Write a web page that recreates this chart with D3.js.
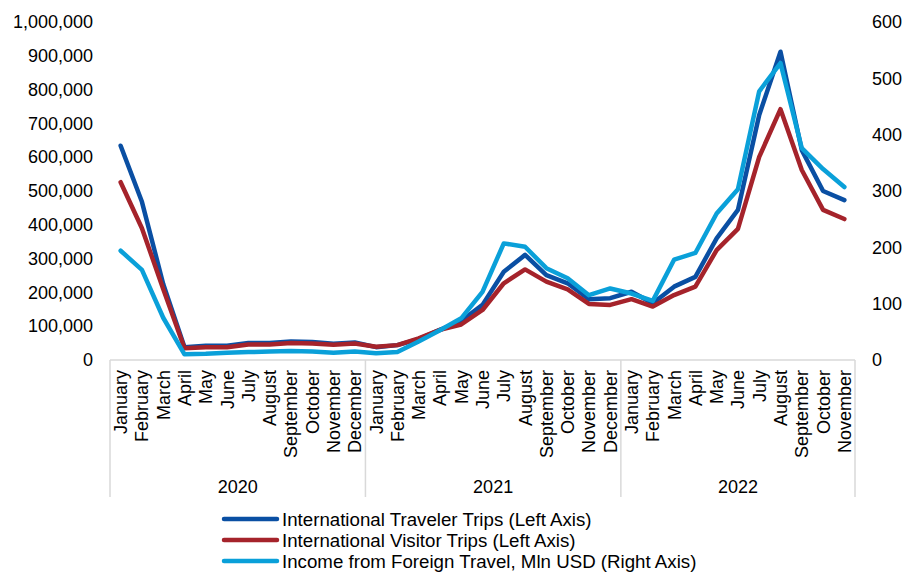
<!DOCTYPE html>
<html><head><meta charset="utf-8">
<script src="https://cdn.jsdelivr.net/npm/d3@7"></script>
<style>body{margin:0;background:#fff}svg{display:block}text{font-family:"Liberation Sans",Arial,sans-serif;fill:#000}</style>
</head><body><svg id="c" width="908" height="572"></svg>
<script>
const years = ["2020","2021","2022"];
const months = ["January","February","March","April","May","June","July","August","September","October","November","December"];
const monthsPerYear = [12,12,11];
const travelerTrips = [634000,468000,225000,38000,42000,42000,50000,50000,55000,53000,48000,52000,
  38000,44000,62000,89000,115000,163000,261000,311000,251000,227000,180000,183000,
  202000,168000,217000,246000,360000,444000,725000,912000,621000,500000,473000];
const visitorTrips = [526000,390000,210000,35000,38000,38000,46000,46000,50000,49000,45000,49000,
  39000,44000,64000,89000,105000,148000,227000,268000,232000,209000,166000,163000,
  180000,158000,192000,217000,325000,388000,601000,742000,562000,444000,417000];
const income = [194,160,75,10,11,13,14,15,16,15,13,15,
  12,14,33,53,74,121,207,201,163,145,115,127,
  118,105,178,190,260,303,477,527,376,339,307];
const leftTicks = [0,100000,200000,300000,400000,500000,600000,700000,800000,900000,1000000];
const rightTicks = [0,100,200,300,400,500,600];
const seriesNames = ["International Traveler Trips (Left Axis)","International Visitor Trips (Left Axis)","Income from Foreign Travel, Mln USD (Right Axis)"];
const colors = ["#0a4fa3","#a5232b","#0aa0d9"];

const cats = [];
years.forEach((y,yi)=>{ for(let m=0;m<monthsPerYear[yi];m++) cats.push(y+"-"+months[m]); });

const svg = d3.select("#c");
const L=110,R=855,T=22,B=360;
const x = d3.scaleBand().domain(cats).range([L,R]);
const yL = d3.scaleLinear().domain([0,1000000]).range([B,T]);
const yR = d3.scaleLinear().domain([0,600]).range([B,T]);
const fmt = d3.format(",");
const FS = 18;

// left axis
const ga = svg.append("g").attr("transform",`translate(${L},0)`).call(d3.axisLeft(yL).tickValues(leftTicks).tickFormat(fmt).tickSize(0).tickPadding(17));
ga.select(".domain").remove();
ga.selectAll("text").attr("font-size",FS).style("font-family","Liberation Sans, Arial, sans-serif");
const gr = svg.append("g").attr("transform",`translate(${R},0)`).call(d3.axisRight(yR).tickValues(rightTicks).tickSize(0).tickPadding(17));
gr.select(".domain").remove();
gr.selectAll("text").attr("font-size",FS).style("font-family","Liberation Sans, Arial, sans-serif");

// category axis
const gray="#d9d9d9";
svg.append("line").attr("x1",L).attr("x2",R).attr("y1",B).attr("y2",B).attr("stroke",gray).attr("stroke-width",1.5);
let idx=0; const bounds=[0];
monthsPerYear.forEach(n=>{idx+=n; bounds.push(idx);});
bounds.forEach(b=>{
  const xx = b<cats.length ? x(cats[b]) : R;
  svg.append("line").attr("x1",xx).attr("x2",xx).attr("y1",B).attr("y2",497).attr("stroke",gray).attr("stroke-width",1.5);
});
cats.forEach(c=>{
  const m = c.split("-")[1];
  const cx = x(c)+x.bandwidth()/2;
  svg.append("text").attr("transform",`translate(${cx+6.5},${B+10}) rotate(-90)`).attr("text-anchor","end").attr("font-size",FS).text(m);
});
years.forEach((y,yi)=>{
  const x0 = x(cats[bounds[yi]]);
  const x1 = bounds[yi+1]<cats.length ? x(cats[bounds[yi+1]]) : R;
  svg.append("text").attr("x",(x0+x1)/2).attr("y",493).attr("text-anchor","middle").attr("font-size",FS).text(y);
});

// lines
const cx = (d,i)=>x(cats[i])+x.bandwidth()/2;
const lineL = d3.line().x(cx).y(d=>yL(d));
const lineR = d3.line().x(cx).y(d=>yR(d));
svg.append("path").attr("d",lineL(travelerTrips)).attr("fill","none").attr("stroke",colors[0]).attr("stroke-width",4.5).attr("stroke-linejoin","round").attr("stroke-linecap","round");
svg.append("path").attr("d",lineL(visitorTrips)).attr("fill","none").attr("stroke",colors[1]).attr("stroke-width",4.5).attr("stroke-linejoin","round").attr("stroke-linecap","round");
svg.append("path").attr("d",lineR(income)).attr("fill","none").attr("stroke",colors[2]).attr("stroke-width",4.5).attr("stroke-linejoin","round").attr("stroke-linecap","round");

// legend
seriesNames.forEach((n,i)=>{
  const yy = 519 + i*21;
  svg.append("line").attr("x1",224).attr("x2",277).attr("y1",yy).attr("y2",yy).attr("stroke",colors[i]).attr("stroke-width",4.5).attr("stroke-linecap","round");
  svg.append("text").attr("x",282).attr("y",yy+6.5).attr("font-size",18.7).text(n);
});
</script></body></html>
